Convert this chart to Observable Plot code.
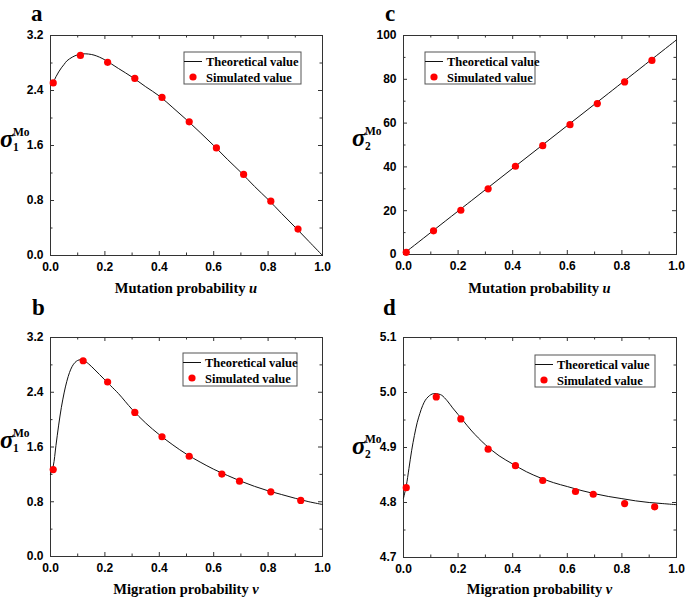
<!DOCTYPE html>
<html><head><meta charset="utf-8">
<script src="https://cdn.jsdelivr.net/npm/d3@7"></script>
<script src="https://cdn.jsdelivr.net/npm/@observablehq/plot@0.6"></script>
<style>
body{margin:0;background:#fff;}
#wrap{position:relative;width:685px;height:599px;overflow:hidden;background:#fff;}
#wrap svg{position:absolute;overflow:visible;}
</style></head><body><div id="wrap"></div>
<script>
// ---------- data ----------
const xMajor = [0, 0.2, 0.4, 0.6, 0.8, 1.0];
const xMinor = [0.1, 0.3, 0.5, 0.7, 0.9];

// panel a: sigma1 vs mutation probability u
const simU = [0.01, 0.11, 0.21, 0.31, 0.41, 0.51, 0.61, 0.71, 0.81, 0.91];
const simA = [2.51, 2.91, 2.81, 2.575, 2.30, 1.945, 1.565, 1.18, 0.79, 0.385];
const theoU_a = [0, 0.01, 0.02, 0.03, 0.04, 0.05, 0.06, 0.08, 0.10, 0.12, 0.14, 0.16, 0.18, 0.20, 0.25, 0.30, 0.35, 0.40, 0.45, 0.50, 0.55, 0.60, 0.65, 0.70, 0.75, 0.80, 0.85, 0.90, 0.95, 1.0];
const theoA = [2.47, 2.52, 2.60, 2.67, 2.73, 2.78, 2.83, 2.885, 2.92, 2.933, 2.93, 2.915, 2.885, 2.845, 2.72, 2.595, 2.455, 2.32, 2.15, 1.975, 1.79, 1.60, 1.40, 1.21, 1.005, 0.815, 0.61, 0.41, 0.205, 0.0];

// panel c: sigma2 vs mutation probability u
const simC = [1.0, 10.8, 20.2, 30.0, 40.3, 49.7, 59.3, 68.9, 78.8, 88.6];
const theoU_c = [0, 0.25, 0.5, 0.75, 1.0];
const theoC = [0.3, 24.7, 49.1, 73.5, 98.0];

// panel b: sigma1 vs migration probability v
const simV = [0.01, 0.12, 0.21, 0.31, 0.41, 0.51, 0.63, 0.695, 0.81, 0.92];
const simB = [1.27, 2.86, 2.55, 2.105, 1.75, 1.465, 1.205, 1.10, 0.945, 0.82];
const theoV = [0, 0.01, 0.02, 0.03, 0.04, 0.05, 0.06, 0.07, 0.08, 0.09, 0.10, 0.11, 0.12, 0.13, 0.14, 0.16, 0.18, 0.20, 0.22, 0.25, 0.30, 0.35, 0.40, 0.45, 0.50, 0.55, 0.60, 0.65, 0.70, 0.75, 0.80, 0.85, 0.90, 0.95, 1.0];
const theoB = [1.20, 1.32, 1.62, 1.92, 2.18, 2.39, 2.56, 2.69, 2.78, 2.835, 2.865, 2.875, 2.865, 2.845, 2.815, 2.74, 2.66, 2.58, 2.50, 2.38, 2.15, 1.95, 1.78, 1.63, 1.495, 1.38, 1.275, 1.185, 1.10, 1.025, 0.96, 0.905, 0.85, 0.80, 0.76];

// panel d: sigma2 vs migration probability v
const simD = [4.827, 4.992, 4.952, 4.897, 4.867, 4.840, 4.820, 4.815, 4.798, 4.792];
const theoD = [4.808, 4.83, 4.862, 4.895, 4.922, 4.945, 4.962, 4.976, 4.986, 4.992, 4.996, 4.998, 4.998, 4.997, 4.995, 4.985, 4.972, 4.96, 4.948, 4.93, 4.905, 4.885, 4.87, 4.856, 4.845, 4.836, 4.829, 4.822, 4.816, 4.811, 4.807, 4.803, 4.800, 4.798, 4.796];

const yMajorAB = [0, 0.8, 1.6, 2.4, 3.2];
const yMinorAB = [0.4, 1.2, 2.0, 2.8];
const yMajorC = [0, 20, 40, 60, 80, 100];
const yMinorC = [10, 30, 50, 70, 90];
const yMajorD = [4.7, 4.8, 4.9, 5.0, 5.1];
const yMinorD = [4.75, 4.85, 4.95, 5.05];

const legendLabels = ["Theoretical value", "Simulated value"];

// ---------- drawing ----------
const SANS = "'Liberation Sans', Arial, sans-serif";
const SERIF = "'Liberation Serif', 'Times New Roman', serif";
const FRAME = "#333";

function panel(cfg) {
  const {left, top, width, height, m, ydomain, yMajor, yMinor, yfmt,
         tx, ty, sx, sy, letter, sub, xlabel, xvar, legend, ylab} = cfg;
  const fw = width - m[1] - m[3];
  const fh = height - m[0] - m[2];
  const MJ = 4, MN = 2.5;
  const svg = Plot.plot({
    width, height,
    marginTop: m[0], marginRight: m[1], marginBottom: m[2], marginLeft: m[3],
    style: {background: "transparent", overflow: "visible"},
    x: {domain: [0, 1]},
    y: {domain: ydomain},
    marks: [
      Plot.frame({stroke: FRAME, strokeWidth: 1}),
      Plot.tickX(xMajor, {x: d => d, insetTop: fh - MJ, stroke: FRAME}),
      Plot.tickX(xMinor, {x: d => d, insetTop: fh - MN, stroke: FRAME}),
      Plot.tickX(xMajor, {x: d => d, insetBottom: fh - MJ, stroke: FRAME}),
      Plot.tickX(xMinor, {x: d => d, insetBottom: fh - MN, stroke: FRAME}),
      Plot.tickY(yMajor, {y: d => d, insetRight: fw - MJ, stroke: FRAME}),
      Plot.tickY(yMinor, {y: d => d, insetRight: fw - MN, stroke: FRAME}),
      Plot.tickY(yMajor, {y: d => d, insetLeft: fw - MJ, stroke: FRAME}),
      Plot.tickY(yMinor, {y: d => d, insetLeft: fw - MN, stroke: FRAME}),
      Plot.axisX({ticks: xMajor, tickFormat: d3.format(".1f"), tickSize: 0, tickPadding: 7,
        label: null, fontSize: 12, fontWeight: "bold", fontFamily: SANS, fill: "#000"}),
      Plot.axisY({ticks: yMajor, tickFormat: d3.format(yfmt), tickSize: 0, tickPadding: 7,
        label: null, fontSize: 12, fontWeight: "bold", fontFamily: SANS, fill: "#000"}),
      Plot.line(tx.map((x, i) => ({x, y: ty[i]})), {x: "x", y: "y", stroke: "#111", strokeWidth: 1, curve: "catmull-rom"}),
      Plot.dot(sx.map((x, i) => ({x, y: sy[i]})), {x: "x", y: "y", r: 3.6, fill: "#f00", stroke: "none"})
    ]
  });
  svg.style.left = left + "px";
  svg.style.top = top + "px";
  const s = d3.select(svg);
  const T = (sel) => sel.append("text").attr("text-anchor", "start").attr("fill", "#000")
    .attr("font-family", SERIF).attr("font-weight", "bold");
  // panel letter
  T(s).attr("x", cfg.letterX).attr("y", cfg.letterY).attr("font-size", 23).text(letter);
  // x label
  const xl = T(s).attr("x", m[3] + fw / 2).attr("y", cfg.xlabY)
    .attr("text-anchor", "middle").attr("font-size", 14.5);
  xl.append("tspan").text(xlabel + " ");
  xl.append("tspan").attr("font-style", "italic").text(xvar);
  // y label: sigma with sub / superscript
  T(s).attr("x", ylab[0]).attr("y", ylab[1]).attr("font-style", "italic").attr("font-size", 25).text("σ");
  T(s).attr("x", ylab[0] + 13).attr("y", ylab[1] - 11).attr("font-size", 11.5).text("Mo");
  T(s).attr("x", ylab[0] + 13).attr("y", ylab[1] + 4).attr("font-size", 11.5).text(sub);
  // legend
  const [lx, ly, lw, lh] = legend;
  const lg = s.append("g");
  lg.append("rect").attr("x", lx).attr("y", ly).attr("width", lw).attr("height", lh)
    .attr("fill", "#fff").attr("stroke", "#555").attr("stroke-width", 1);
  lg.append("line").attr("x1", lx).attr("x2", lx + 18).attr("y1", ly + 9.5).attr("y2", ly + 9.5)
    .attr("stroke", "#111").attr("stroke-width", 1);
  lg.append("circle").attr("cx", lx + 9).attr("cy", ly + 25).attr("r", 3.6).attr("fill", "#f00");
  legendLabels.forEach((t, i) => {
    T(lg).attr("x", lx + 22).attr("y", ly + 13.5 + i * 16).attr("font-size", 12.5).text(t);
  });
  document.getElementById("wrap").appendChild(svg);
}

panel({left: 0, top: 0, width: 340, height: 300, m: [35, 18, 45, 50],
  ydomain: [0, 3.2], yMajor: yMajorAB, yMinor: yMinorAB, yfmt: ".1f",
  tx: theoU_a, ty: theoA, sx: simU, sy: simA, letter: "a", letterX: 31, letterY: 21,
  sub: "1", xlabel: "Mutation probability", xvar: "u", xlabY: 293,
  legend: [184, 52, 117, 32], ylab: [0, 147]});

panel({left: 340, top: 0, width: 345, height: 300, m: [35, 9, 46, 63],
  ydomain: [0, 100], yMajor: yMajorC, yMinor: yMinorC, yfmt: "d",
  tx: theoU_c, ty: theoC, sx: simU, sy: simC, letter: "c", letterX: 45, letterY: 21,
  sub: "2", xlabel: "Mutation probability", xvar: "u", xlabY: 293,
  legend: [85, 52, 110, 32], ylab: [12, 146]});

panel({left: 0, top: 300, width: 340, height: 299, m: [37, 18, 43, 50],
  ydomain: [0, 3.2], yMajor: yMajorAB, yMinor: yMinorAB, yfmt: ".1f",
  tx: theoV, ty: theoB, sx: simV, sy: simB, letter: "b", letterX: 32, letterY: 15,
  sub: "1", xlabel: "Migration probability", xvar: "v", xlabY: 294,
  legend: [183, 53, 114, 33], ylab: [0, 148]});

panel({left: 340, top: 300, width: 345, height: 299, m: [37, 9, 42, 63],
  ydomain: [4.7, 5.1], yMajor: yMajorD, yMinor: yMinorD, yfmt: ".1f",
  tx: theoV, ty: theoD, sx: simV, sy: simD, letter: "d", letterX: 43, letterY: 15,
  sub: "2", xlabel: "Migration probability", xvar: "v", xlabY: 294,
  legend: [195, 55, 120, 32], ylab: [12, 154]});
</script>
</body></html>
